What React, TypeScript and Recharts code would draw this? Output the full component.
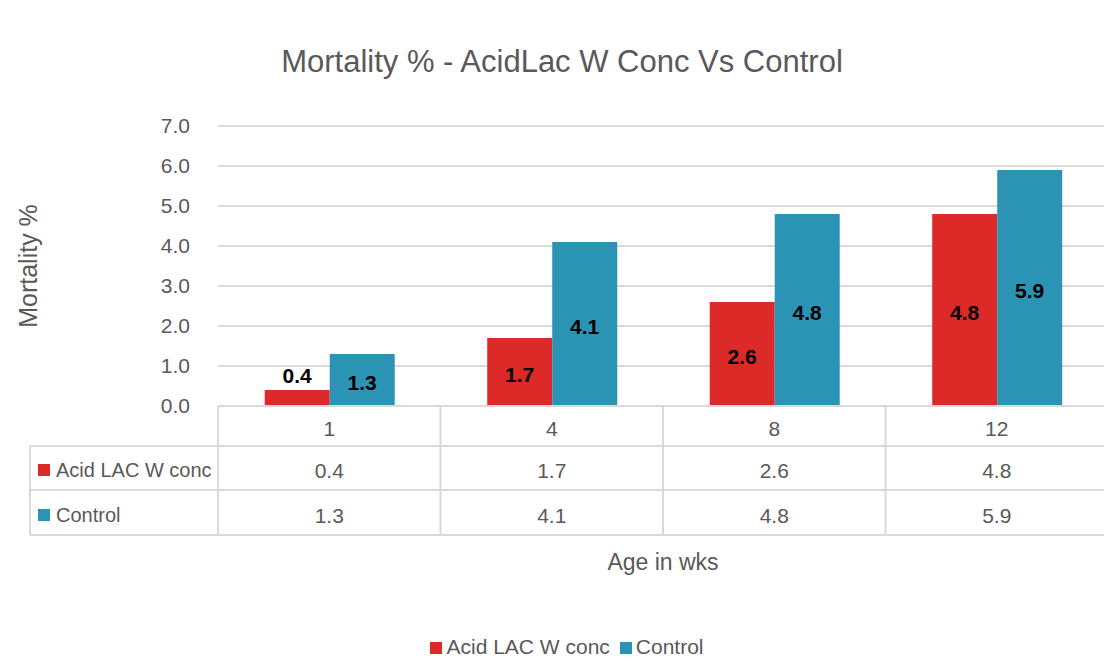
import { BarChart, Bar, XAxis, YAxis, CartesianGrid, Legend, LabelList } from 'recharts';

const AGES = ['1', '4', '8', '12'];
const ACID = [0.4, 1.7, 2.6, 4.8];
const CONTROL = [1.3, 4.1, 4.8, 5.9];
const Y_TICKS = [0, 1, 2, 3, 4, 5, 6, 7];

const SERIES = [
  { key: 'acid', name: 'Acid LAC W conc', color: '#DC2A28', values: ACID },
  { key: 'control', name: 'Control', color: '#2B93B4', values: CONTROL },
];

const data = AGES.map((age, i) => ({ age, acid: ACID[i], control: CONTROL[i] }));

const FONT = "'Liberation Sans', Arial, sans-serif";
const GREY = '#595959';
const LINE = '#D9D9D9';

const CHART_W = 1112;
const CHART_H = 661;
const MARGIN = { top: 126, right: 4, bottom: 61, left: 0 };
const Y_W = 218;
const BAND = (CHART_W - MARGIN.left - MARGIN.right - Y_W) / AGES.length;

// category tick + the data table underneath it
function TableTick(props: any) {
  const { x, y, payload, index } = props;
  const i = index ?? AGES.indexOf(String(payload.value));
  const left = x - BAND / 2;
  const right = x + BAND / 2;
  const rows = [y + 40, y + 84, y + 129];
  return (
    <g>
      <line x1={left} x2={left} y1={y} y2={rows[2]} stroke={LINE} strokeWidth={2} />
      {rows.map((ry) => (
        <line key={ry} x1={left} x2={right} y1={ry} y2={ry} stroke={LINE} strokeWidth={2} />
      ))}
      <text x={x} y={y + 22} textAnchor="middle" dominantBaseline="central" fontSize={21} fill={GREY} fontFamily={FONT}>
        {payload.value}
      </text>
      {SERIES.map((s, r) => (
        <text key={s.key} x={x} y={y + 64 + r * 45} textAnchor="middle" dominantBaseline="central" fontSize={21} fill={GREY} fontFamily={FONT}>
          {s.values[i].toFixed(1)}
        </text>
      ))}
      {i === 0 && (
        <g>
          <line x1={30} x2={30} y1={rows[0]} y2={rows[2]} stroke={LINE} strokeWidth={2} />
          {rows.map((ry) => (
            <line key={ry} x1={30} x2={left} y1={ry} y2={ry} stroke={LINE} strokeWidth={2} />
          ))}
          {SERIES.map((s, r) => (
            <g key={s.key}>
              <rect x={38} y={y + 58 + r * 45} width={12} height={12} fill={s.color} />
              <text x={56} y={y + 64 + r * 45} dominantBaseline="central" fontSize={20} fill={GREY} fontFamily={FONT}>
                {s.name}
              </text>
            </g>
          ))}
        </g>
      )}
    </g>
  );
}

function BarValue(props: any) {
  const { x, y, width, height, value } = props;
  const small = height < 26;
  return (
    <text
      x={x + width / 2}
      y={small ? y - 15 : y + height / 2 + 2}
      textAnchor="middle"
      dominantBaseline="central"
      fontSize={21}
      fontWeight="bold"
      fill="#000"
      fontFamily={FONT}
    >
      {Number(value).toFixed(1)}
    </text>
  );
}

export default function App() {
  return (
    <div style={{ position: 'absolute', left: 0, top: 0, width: 1104, height: 661, overflow: 'hidden', background: '#fff' }}>
      <div
        style={{
          position: 'absolute',
          top: 44,
          left: 0,
          width: 1124,
          textAlign: 'center',
          fontFamily: FONT,
          fontSize: 31,
          color: GREY,
        }}
      >
        Mortality % - AcidLac W Conc Vs Control
      </div>
      <BarChart width={CHART_W} height={CHART_H} data={data} margin={MARGIN} barGap={0} barCategoryGap="21%">
        <CartesianGrid vertical={false} stroke={LINE} strokeWidth={2} />
        <XAxis
          dataKey="age"
          height={170}
          tickLine={false}
          axisLine={{ stroke: LINE, strokeWidth: 2 }}
          tickSize={0}
          tickMargin={0}
          interval={0}
          tick={<TableTick />}
          label={{ value: 'Age in wks', position: 'insideBottom', offset: 6, fontSize: 23, fill: GREY, fontFamily: FONT }}
        />
        <YAxis
          width={Y_W}
          domain={[0, 7]}
          ticks={Y_TICKS}
          tickFormatter={(v: number) => v.toFixed(1)}
          tickLine={false}
          axisLine={false}
          tickMargin={22}
          tick={{ fontSize: 21, fill: GREY, fontFamily: FONT }}
          label={{ value: 'Mortality %', angle: -90, position: 'insideLeft', offset: 28, fontSize: 25, fill: GREY, fontFamily: FONT, style: { textAnchor: 'middle' } }}
        />
        <Legend
          verticalAlign="bottom"
          iconType="square"
          iconSize={12}
          wrapperStyle={{ left: 18, fontFamily: FONT, fontSize: 21, bottom: 2 }}
          formatter={(value: string) => <span style={{ color: GREY }}>{value}</span>}
        />
        {SERIES.map((s) => (
          <Bar key={s.key} dataKey={s.key} name={s.name} fill={s.color} isAnimationActive={false}>
            <LabelList dataKey={s.key} content={<BarValue />} />
          </Bar>
        ))}
      </BarChart>
    </div>
  );
}
